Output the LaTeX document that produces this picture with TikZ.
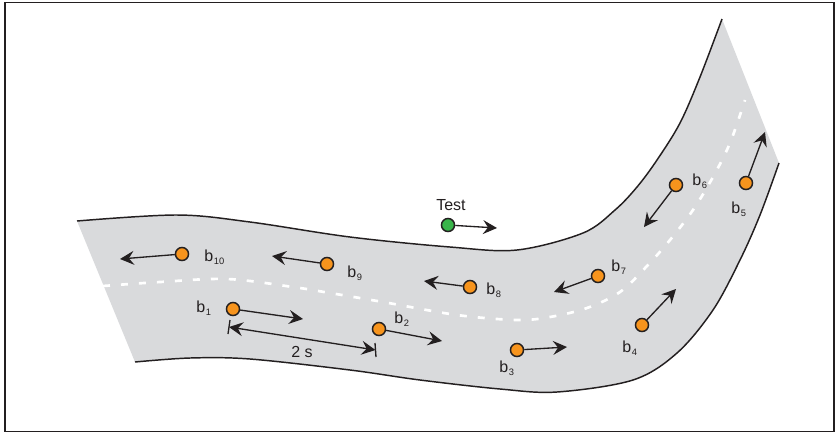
\documentclass[tikz,border=0pt]{standalone}
\usepackage{fontspec}
\setmainfont{Liberation Sans}
\usetikzlibrary{arrows.meta}
\definecolor{roadgray}{RGB}{217,218,220}
\definecolor{dotorange}{RGB}{247,148,29}
\definecolor{dotgreen}{RGB}{57,181,74}
\definecolor{ink}{RGB}{35,31,32}
\newcommand{\lbl}[1]{b\kern0.5pt\raisebox{-2.5pt}{\fontsize{7}{7}\selectfont #1}}
\tikzset{
  car/.style={circle,draw=ink,line width=1.1pt,fill=dotorange,minimum size=9.8pt,inner sep=0pt},
  testcar/.style={car,fill=dotgreen},
  vec/.style={draw=ink,line width=1pt,-{Stealth[length=10.5pt,width=10.5pt,inset=3.8pt]}},
  dimline/.style={draw=ink,line width=1pt,{Stealth[length=10.5pt,width=10.5pt,inset=3.8pt]}-{Stealth[length=10.5pt,width=10.5pt,inset=3.8pt]}},
  edge/.style={draw=ink,line width=1.1pt},
  lab/.style={anchor=base west,inner sep=0pt,text=ink,font=\fontsize{12}{12}\selectfont}
}
\begin{document}
\begin{tikzpicture}[x=0.75pt,y=-0.75pt]
\useasboundingbox (0,0) rectangle (838,433);
% frame
\draw[ink,line width=1.2pt] (5,2.5) rectangle (834,431.5);
% road fill
\fill[roadgray] plot[smooth,tension=0.55] coordinates {(77,221) (177,215) (250,222) (350,237) (450,247) (517,250) (583,233) (615,210) (637,187) (657,160) (680,123) (700,77) (722,19)}
  -- plot[smooth,tension=0.55] coordinates {(779,163) (760,215) (740,260) (713,310) (677,353) (633,380) (557,392) (500,389) (420,380) (350,370) (250,359) (190,358) (135,362)} -- cycle;
% road edges
\draw[edge] plot[smooth,tension=0.55] coordinates {(77,221) (177,215) (250,222) (350,237) (450,247) (517,250) (583,233) (615,210) (637,187) (657,160) (680,123) (700,77) (722,19)};
\draw[edge] plot[smooth,tension=0.55] coordinates {(779,163) (760,215) (740,260) (713,310) (677,353) (633,380) (557,392) (500,389) (420,380) (350,370) (250,359) (190,358) (135,362)};
% center line
\draw[white,line width=2pt,dash pattern=on 5.25pt off 8.25pt] plot[smooth,tension=0.55] coordinates {(103,286) (160,282) (227,279) (293,287) (330,293) (383,302) (457,315) (517,320) (550,317) (587,308) (620,292) (647,266) (670,240) (693,210) (713,177) (730,143) (745,100)};
% cars
\node[testcar] (test) at (448,225) {};
\node[car] (b1) at (233,309) {};
\node[car] (b2) at (379,329) {};
\node[car] (b3) at (517,350) {};
\node[car] (b4) at (642,325) {};
\node[car] (b5) at (746,183) {};
\node[car] (b6) at (676,185) {};
\node[car] (b7) at (598,276) {};
\node[car] (b8) at (470,287) {};
\node[car] (b9) at (327,264) {};
\node[car] (b10) at (182,254) {};
% arrow tips
\coordinate (ttest) at (497,228);
\coordinate (t1) at (303,319);
\coordinate (t2) at (442,341);
\coordinate (t3) at (567,347);
\coordinate (t4) at (676,289);
\coordinate (t5) at (765,132);
\coordinate (t6) at (644,227);
\coordinate (t7) at (554,292);
\coordinate (t8) at (424,281);
\coordinate (t9) at (272,256);
\coordinate (t10) at (120,259);
\draw[vec] (test) -- (ttest);
\foreach \i in {1,...,10} {\draw[vec] (b\i) -- (t\i);}
% labels
\node[lab] (ltest) at (436,210) {Test};
\node[lab] (l1) at (196,312) {\lbl{1}};
\node[lab] (l2) at (394,323) {\lbl{2}};
\node[lab] (l3) at (499,372) {\lbl{3}};
\node[lab] (l4) at (622,352) {\lbl{4}};
\node[lab] (l5) at (731,213) {\lbl{5}};
\node[lab] (l6) at (692,185) {\lbl{6}};
\node[lab] (l7) at (611,271) {\lbl{7}};
\node[lab] (l8) at (486,294) {\lbl{8}};
\node[lab] (l9) at (347,277) {\lbl{9}};
\node[lab] (l10) at (204,261) {\lbl{10}};
% dimension 2 s
\coordinate (dl) at (229,327);
\coordinate (dr) at (375.5,350);
\draw[ink,line width=1pt] (230,320) -- (228,334);
\draw[ink,line width=1pt] (375,343) -- (376,357);
\draw[dimline] (dl) -- (dr);
\node[lab,anchor=center] (dim) at (302,352) {2 s};
\end{tikzpicture}
\end{document}
